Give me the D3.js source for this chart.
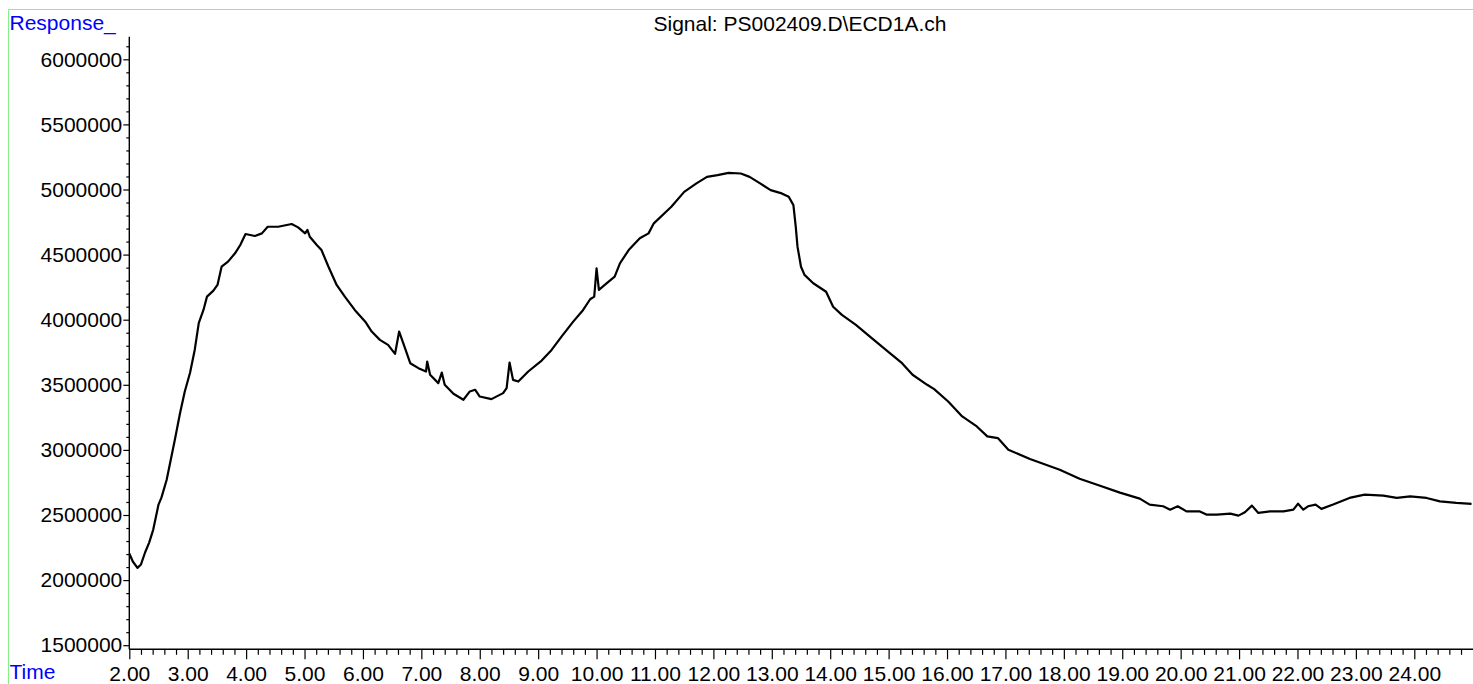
<!DOCTYPE html>
<html>
<head>
<meta charset="utf-8">
<script src="https://cdn.jsdelivr.net/npm/d3@7"></script>
<style>
  html, body { margin: 0; padding: 0; background: #fff; }
  svg { display: block; }
  text { font-family: "Liberation Sans", Arial, sans-serif; }
</style>
</head>
<body>
<svg id="chart" width="1473" height="684"></svg>
<script>
// ---- data ----
const titleText = "Signal: PS002409.D\\ECD1A.ch";
const yAxisLabel = "Response_";
const xAxisLabel = "Time";

const xTickLabels = ["2.00","3.00","4.00","5.00","6.00","7.00","8.00","9.00","10.00","11.00","12.00","13.00","14.00","15.00","16.00","17.00","18.00","19.00","20.00","21.00","22.00","23.00","24.00"];
const yTickLabels = ["1500000","2000000","2500000","3000000","3500000","4000000","4500000","5000000","5500000","6000000"];

const times = [
  2.00, 2.06, 2.14, 2.20, 2.27, 2.34, 2.41, 2.50, 2.55, 2.64,
  2.78, 2.87, 2.95, 3.04, 3.12, 3.19, 3.27, 3.33, 3.44, 3.51,
  3.58, 3.69, 3.81, 3.90, 3.99, 4.15, 4.27, 4.37, 4.55, 4.78,
  4.89, 5.01, 5.05, 5.09, 5.21, 5.29, 5.41, 5.55, 5.69, 5.86,
  6.04, 6.15, 6.29, 6.43, 6.55, 6.62, 6.69, 6.81, 6.95, 7.08,
  7.10, 7.15, 7.29, 7.35, 7.40, 7.55, 7.72, 7.83, 7.92, 8.00,
  8.20, 8.40, 8.46, 8.51, 8.57, 8.66, 8.83, 9.06, 9.23, 9.40,
  9.60, 9.77, 9.89, 9.96, 10.00, 10.04, 10.14, 10.31, 10.40, 10.55,
  10.74, 10.89, 10.98, 11.28, 11.50, 11.71, 11.89, 12.07, 12.26, 12.47,
  12.62, 12.80, 12.98, 13.17, 13.29, 13.37, 13.41, 13.44, 13.50, 13.56,
  13.71, 13.93, 14.05, 14.20, 14.44, 14.68, 14.99, 15.23, 15.41, 15.66,
  15.78, 16.02, 16.26, 16.51, 16.69, 16.87, 17.05, 17.42, 17.93, 18.27,
  18.62, 18.96, 19.30, 19.47, 19.70, 19.82, 19.95, 20.10, 20.32, 20.44,
  20.62, 20.85, 20.99, 21.10, 21.22, 21.33, 21.53, 21.76, 21.93, 22.01,
  22.10, 22.18, 22.31, 22.41, 22.61, 22.89, 23.15, 23.47, 23.70, 23.93,
  24.21, 24.44, 24.72, 24.98
];
const responses = [
  2204000, 2143000, 2094000, 2120000, 2212000, 2288000, 2388000, 2580000, 2633000, 2771000,
  3078000, 3285000, 3449000, 3592000, 3768000, 3975000, 4075000, 4177000, 4223000, 4267000,
  4407000, 4446000, 4510000, 4574000, 4658000, 4643000, 4663000, 4714000, 4714000, 4735000,
  4709000, 4663000, 4689000, 4637000, 4574000, 4535000, 4407000, 4267000, 4177000, 4075000,
  3985000, 3909000, 3845000, 3807000, 3738000, 3909000, 3820000, 3666000, 3628000, 3602000,
  3679000, 3577000, 3513000, 3594000, 3500000, 3431000, 3385000, 3449000, 3462000, 3410000,
  3390000, 3436000, 3475000, 3671000, 3538000, 3525000, 3602000, 3686000, 3768000, 3870000,
  3985000, 4075000, 4157000, 4177000, 4395000, 4229000, 4267000, 4331000, 4433000, 4535000,
  4625000, 4663000, 4740000, 4867000, 4982000, 5047000, 5097000, 5110000, 5128000, 5123000,
  5097000, 5047000, 4995000, 4970000, 4944000, 4880000, 4714000, 4561000, 4407000, 4344000,
  4280000, 4215000, 4100000, 4037000, 3960000, 3870000, 3755000, 3666000, 3577000, 3500000,
  3467000, 3372000, 3257000, 3180000, 3104000, 3091000, 3002000, 2930000, 2848000, 2779000,
  2725000, 2672000, 2626000, 2580000, 2567000, 2541000, 2567000, 2528000, 2528000, 2503000,
  2503000, 2511000, 2495000, 2521000, 2572000, 2516000, 2528000, 2528000, 2541000, 2587000,
  2541000, 2567000, 2580000, 2547000, 2580000, 2631000, 2656000, 2649000, 2631000, 2643000,
  2631000, 2605000, 2593000, 2585000
];

const xMajor = xTickLabels.map(Number);
const yMajor = yTickLabels.map(Number);

// ---- layout ----
const svg = d3.select("#chart");
const W = 1473, H = 684;
const x = d3.scaleLinear().domain([2, 25]).range([129.3, 1472.7]);
const y = d3.scaleLinear().domain([1500000, 6000000]).range([645.2, 59.3]);
const yBottom = 1468500, yTop = 6173600;
const fontSize = 21;

// green frame
svg.append("line").attr("x1", 8.5).attr("x2", W).attr("y1", 9.5).attr("y2", 9.5)
  .attr("stroke", "#86f086").attr("stroke-width", 1);
svg.append("line").attr("x1", 8.5).attr("x2", 8.5).attr("y1", 9.5).attr("y2", H)
  .attr("stroke", "#86f086").attr("stroke-width", 1);

// x axis
const xMinor = d3.range(0, 116).map(i => 2 + i * 0.2).filter(v => Math.abs(v - Math.round(v)) > 1e-6);
const gx = svg.append("g").attr("transform", `translate(0,${y(yBottom)})`);
gx.call(d3.axisBottom(x).tickValues(xMinor).tickSize(5.5).tickFormat(""));
gx.call(g => g.select(".domain").remove());
const gx2 = svg.append("g").attr("transform", `translate(0,${y(yBottom)})`);
gx2.call(d3.axisBottom(x).tickValues(xMajor).tickSize(10).tickPadding(6.5).tickFormat((d, i) => xTickLabels[i]));
gx2.select(".domain").remove();
gx2.selectAll("text").attr("font-size", fontSize).attr("fill", "#000")
  .style("font-family", '"Liberation Sans", Arial, sans-serif');

// y axis
const yMinor = d3.range(15, 62).map(i => i * 100000).filter(v => v % 500000 !== 0);
const gy = svg.append("g").attr("transform", `translate(${x(2)},0)`);
gy.call(d3.axisLeft(y).tickValues(yMinor).tickSize(3).tickFormat(""));
gy.select(".domain").remove();
const gy2 = svg.append("g").attr("transform", `translate(${x(2)},0)`);
gy2.call(d3.axisLeft(y).tickValues(yMajor).tickSize(6).tickPadding(1).tickFormat((d, i) => yTickLabels[i]));
gy2.select(".domain").remove();
svg.selectAll(".tick line").attr("stroke", "#000").attr("stroke-width", 1.2);
gy2.selectAll("text").attr("font-size", fontSize).attr("fill", "#000")
  .style("font-family", '"Liberation Sans", Arial, sans-serif');

// axis lines
svg.append("line").attr("x1", x(2)).attr("x2", W).attr("y1", y(yBottom)).attr("y2", y(yBottom))
  .attr("stroke", "#000").attr("stroke-width", 1.4);
svg.append("line").attr("x1", x(2)).attr("x2", x(2)).attr("y1", y(yTop)).attr("y2", y(yBottom))
  .attr("stroke", "#000").attr("stroke-width", 1.4);

// signal trace
const data = times.map((t, i) => ({ t, v: responses[i] }));
const line = d3.line().x(d => x(d.t)).y(d => y(d.v)).curve(d3.curveLinear);
svg.append("path").datum(data).attr("d", line)
  .attr("fill", "none").attr("stroke", "#000").attr("stroke-width", 2.2)
  .attr("stroke-linejoin", "round");

// texts
svg.append("text").attr("x", 800).attr("y", 31).attr("text-anchor", "middle")
  .attr("font-size", fontSize).attr("fill", "#000").text(titleText);
svg.append("text").attr("x", 9.5).attr("y", 29.5)
  .attr("font-size", fontSize).attr("fill", "#0000ff").text(yAxisLabel);
svg.append("text").attr("x", 9.5).attr("y", 679)
  .attr("font-size", fontSize).attr("fill", "#0000ff").text(xAxisLabel);
</script>
</body>
</html>
